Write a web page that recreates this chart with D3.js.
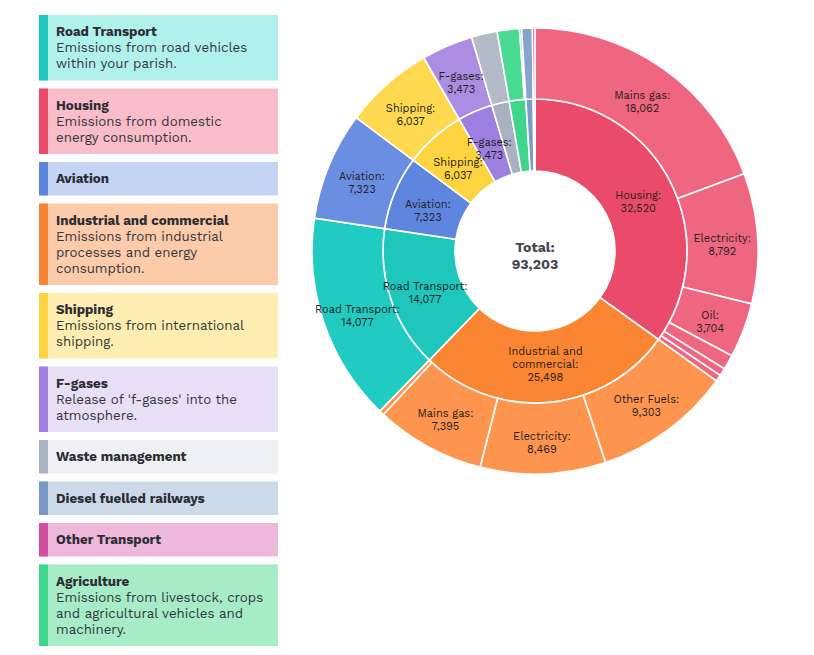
<!DOCTYPE html>
<html>
<head>
<meta charset="utf-8">
<script src="https://cdn.jsdelivr.net/npm/d3@7"></script>
<style>
  html, body { margin: 0; padding: 0; background: #fff; }
  svg { display: block; }
</style>
</head>
<body>
<svg id="chart" width="814" height="655"></svg>
<script>
// ---------- DATA ----------
const categories = ["Housing", "Industrial and commercial", "Road Transport", "Aviation", "Shipping", "F-gases", "Waste management", "Agriculture", "Diesel fuelled railways", "Other Transport"];
const categoryValues = [32520, 25498, 14077, 7323, 6037, 3473, 1740, 1640, 720, 175];

const housingSub = ["Mains gas", "Electricity", "Oil", "Coal", "Other fuels", "LPG"];
const housingSubValues = [18062, 8792, 3704, 1000, 520, 442];

const industrialSub = ["Other Fuels", "Electricity", "Mains gas", "Other"];
const industrialSubValues = [9303, 8469, 7395, 331];

const agricultureSub = ["Agriculture", "Other"];
const agricultureSubValues = [1500, 140];

const innerColors = ["#ea4b6b", "#fa8633", "#1ec6bb", "#5f86de", "#fdd33f", "#9e7ede", "#a8b1c1", "#3fd58b", "#7b9bc8", "#d14f9e"];
const outerColors = ["#ef6680", "#fd954f", "#21cbc1", "#6a8fe2", "#fed94f", "#ab8de2", "#b3bbc8", "#48db91", "#86a4cd", "#d85fa8"];

const legendNames = ["Road Transport", "Housing", "Aviation", "Industrial and commercial", "Shipping", "F-gases", "Waste management", "Diesel fuelled railways", "Other Transport", "Agriculture"];
const legendDesc = [
  ["Emissions from road vehicles", "within your parish."],
  ["Emissions from domestic", "energy consumption."],
  [],
  ["Emissions from industrial", "processes and energy", "consumption."],
  ["Emissions from international", "shipping."],
  ["Release of 'f-gases' into the", "atmosphere."],
  [],
  [],
  [],
  ["Emissions from livestock, crops", "and agricultural vehicles and", "machinery."]
];
const legendBar = ["#1ec6bb", "#ea4b6b", "#5b84dd", "#f98533", "#fdd33f", "#a07ee0", "#a8b1c1", "#7898c5", "#d14f9e", "#3dd68a"];
const legendBg = ["#b0f1ec", "#f8bdc8", "#c6d4f4", "#fccbaa", "#feedb0", "#e7dff5", "#eff0f4", "#cbd9e8", "#edb8da", "#a6ecc7"];

const totalLabel = "Total:";

// ---------- BUILD HIERARCHY ----------
const subMap = {
  "Housing": [housingSub, housingSubValues],
  "Industrial and commercial": [industrialSub, industrialSubValues],
  "Agriculture": [agricultureSub, agricultureSubValues]
};
const rootData = {
  name: "root",
  children: categories.map((c, i) => {
    const s = subMap[c];
    const kids = s ? s[0].map((n, j) => ({ name: n, value: s[1][j] }))
                   : [{ name: c, value: categoryValues[i] }];
    return { name: c, idx: i, children: kids };
  })
};

const svg = d3.select("#chart");
const font = "'Work Sans', Inter, 'Noto Sans', sans-serif";

// ---------- LEGEND ----------
const lg = svg.append("g");
let y = 15;
const boxX = 39, boxW = 239, barW = 9, gap = 8;
legendNames.forEach((name, i) => {
  const n = legendDesc[i].length;
  const h = 33.5 + 16 * n;
  const g = lg.append("g").attr("transform", `translate(${boxX},${y})`);
  g.append("rect").attr("width", boxW).attr("height", h).attr("fill", legendBg[i]);
  g.append("rect").attr("width", barW).attr("height", h).attr("fill", legendBar[i]);
  g.append("text").attr("x", 17).attr("y", 21).text(name)
    .attr("font-family", font).attr("font-size", 13.3).attr("font-weight", 700).attr("fill", "#2b2d33");
  legendDesc[i].forEach((line, k) => {
    g.append("text").attr("x", 17).attr("y", 37 + 16 * k).text(line)
      .attr("font-family", font).attr("font-size", 13.3).attr("fill", "#33363d");
  });
  y += h + gap;
});

// ---------- SUNBURST ----------
const cx = 535, cy = 251;
const radii = [80, 152, 223];

const root = d3.hierarchy(rootData).sum(d => d.value || 0);
d3.partition().size([2 * Math.PI, 3])(root);

const arc = d3.arc()
  .startAngle(d => d.x0)
  .endAngle(d => d.x1)
  .innerRadius(d => radii[d.depth - 1])
  .outerRadius(d => radii[d.depth]);

const cg = svg.append("g").attr("transform", `translate(${cx},${cy})`);
const nodes = root.descendants().filter(d => d.depth > 0);

const colorOf = d => {
  const cat = d.depth === 1 ? d : d.parent;
  return d.depth === 1 ? innerColors[cat.data.idx] : outerColors[cat.data.idx];
};

cg.selectAll("path.slice").data(nodes).join("path")
  .attr("class", "slice")
  .attr("d", arc)
  .attr("fill", colorOf)
  .attr("stroke", "#fff")
  .attr("stroke-width", 1.6);

const fmt = d3.format(",");
function wrap(name) {
  const full = name + ":";
  if (full.length <= 16) return [full];
  const words = full.split(" ");
  const lines = [];
  let cur = "";
  words.forEach(w => {
    if ((cur + " " + w).trim().length > 14 && cur) { lines.push(cur); cur = w; }
    else cur = (cur + " " + w).trim();
  });
  if (cur) lines.push(cur);
  return lines;
}

const labeled = nodes.filter(d => (d.x1 - d.x0) > 0.2);
const lab = cg.selectAll("text.lbl").data(labeled).join("text")
  .attr("class", "lbl")
  .attr("font-family", font)
  .attr("font-size", 11)
  .attr("fill", "#1f1f1f")
  .attr("text-anchor", "middle")
  .attr("transform", d => {
    const a = (d.x0 + d.x1) / 2;
    const r = (radii[d.depth - 1] + radii[d.depth]) / 2;
    return `translate(${r * Math.sin(a)},${-r * Math.cos(a)})`;
  });
lab.each(function(d) {
  const lines = wrap(d.data.name).concat([fmt(d.value)]);
  const t = d3.select(this);
  const lh = 13;
  const n = lines.length;
  lines.forEach((l, k) => {
    t.append("tspan").attr("x", 0).attr("y", 14.5 - (n - 1 - k) * lh).text(l);
  });
});

// center total
const tot = cg.append("text").attr("text-anchor", "middle")
  .attr("font-family", font).attr("font-weight", 700).attr("font-size", 14).attr("fill", "#45474d");
tot.append("tspan").attr("x", 0).attr("y", 1).text(totalLabel);
tot.append("tspan").attr("x", 0).attr("y", 18).text(fmt(root.value));
</script>
</body>
</html>
